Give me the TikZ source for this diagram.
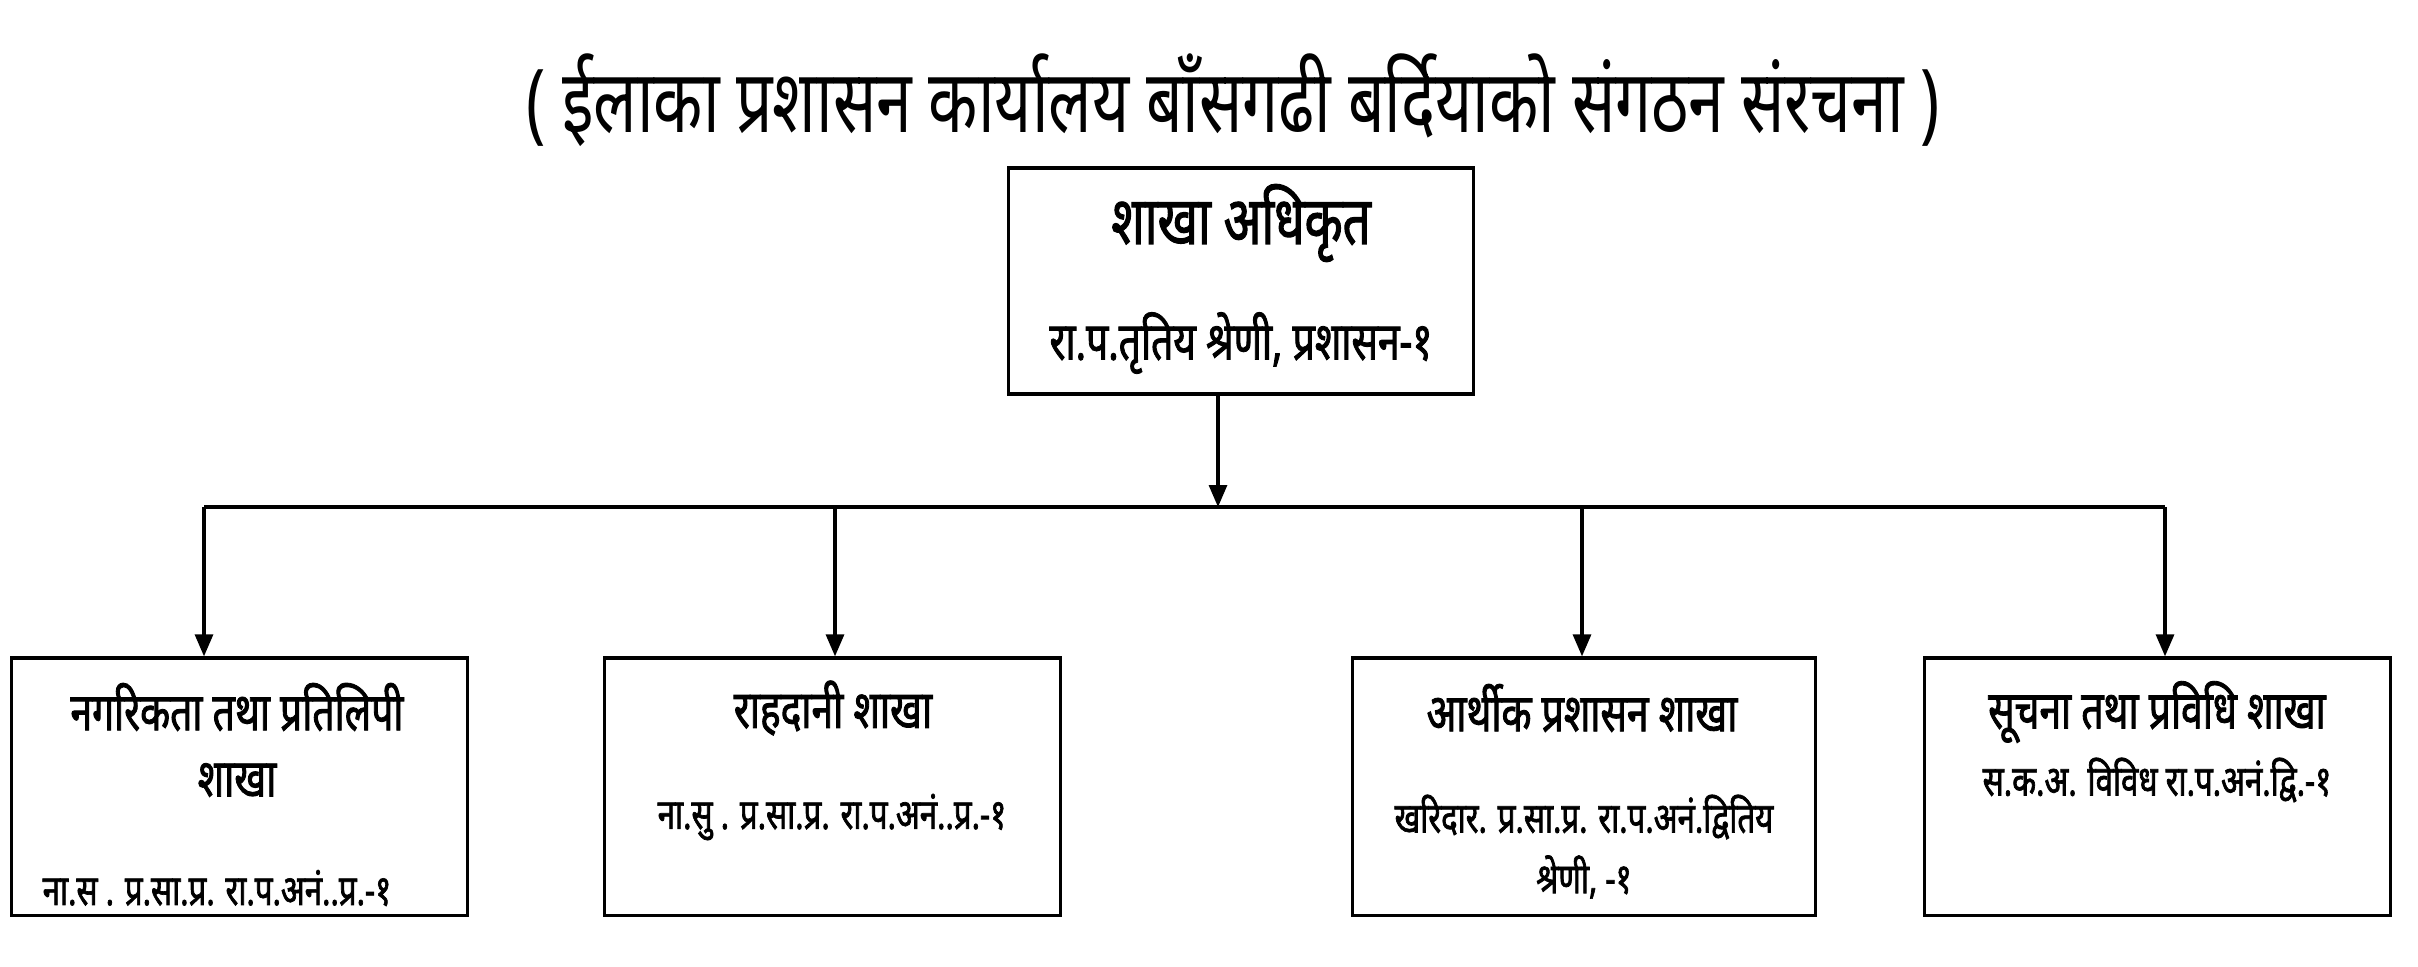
\documentclass[tikz,border=0pt]{standalone}
\usepackage{fontspec}
\newfontfamily\devfont[Script=Devanagari,FakeStretch=0.73]{Noto Sans}
\newfontfamily\devbold[Script=Devanagari,FakeStretch=0.74,FakeBold=1.6]{Noto Sans}
\usetikzlibrary{arrows.meta,positioning}
\tikzset{
  office/.style={draw,line width=0.9pt,inner sep=0pt,minimum width=4.55cm,minimum height=2.57cm},
  head/.style={font=\devbold\fontsize{15}{17}\selectfont,inner sep=0pt},
  post/.style={font=\devbold\fontsize{12}{14}\selectfont,inner sep=0pt},
  feed/.style={line width=0.9pt,-{Triangle[length=0.22cm,width=0.18cm]}}
}
\begin{document}
\begin{tikzpicture}[x=0.01cm,y=-0.01cm]
  \useasboundingbox (0,0) rectangle (2418,966);
  \node[font=\devfont\fontsize{25}{27}\selectfont,inner sep=0pt] (title) at (1233,100) {( ईलाका प्रशासन कार्यालय बाँसगढी बर्दियाको संगठन संरचना )};

  % chief
  \node[office,minimum width=4.65cm,minimum height=2.26cm] (chief) at (1241,281) {};
  \node[head,font=\devbold\fontsize{19}{21}\selectfont] (chiefname) at (1241,223) {शाखा अधिकृत};
  \node[head,font=\devbold\fontsize{15}{17}\selectfont] (chiefpost) at (1241,343) {रा.प.तृतिय श्रेणी, प्रशासन-१};

  % branches
  \node[office] (b1) at (239.5,786.5) {};
  \node[office] (b2) at (832.5,786.5) {};
  \node[office,minimum width=4.62cm] (b3) at (1584,786.5) {};
  \node[office,minimum width=4.65cm] (b4) at (2157.5,786.5) {};

  \node[head] (b1name) at (237,707) {नगरिकता तथा प्रतिलिपी};
  \node[head] (b1more) at (237,780) {शाखा};
  \node[post] (b1post) at (217,888) {ना.स . प्र.सा.प्र. रा.प.अनं..प्र.-१};
  \node[head] (b2name) at (833,708) {राहदानी शाखा};
  \node[post] (b2post) at (832,817) {ना.सु . प्र.सा.प्र. रा.प.अनं..प्र.-१};
  \node[head] (b3name) at (1582,708) {आर्थीक प्रशासन शाखा};
  \node[post] (b3post) at (1584,817) {खरिदार. प्र.सा.प्र. रा.प.अनं.द्वितिय};
  \node[post] (b3more) at (1584,877) {श्रेणी, -१};
  \node[head] (b4name) at (2157,712) {सूचना तथा प्रविधि शाखा};
  \node[post] (b4post) at (2157,780) {स.क.अ. विविध रा.प.अनं.द्वि.-१};

  % connectors
  \coordinate (hub) at (1218,507);
  \coordinate (c1) at (204,507);
  \coordinate (c2) at (835,507);
  \coordinate (c3) at (1582,507);
  \coordinate (c4) at (2165,507);
  \draw[feed] (hub |- chief.south) -- (hub);
  \draw[line width=0.9pt] (c1) -- (c4);
  \foreach \i in {1,...,4}
    \draw[feed] (c\i) -- (c\i |- b\i.north);
\end{tikzpicture}
\end{document}
